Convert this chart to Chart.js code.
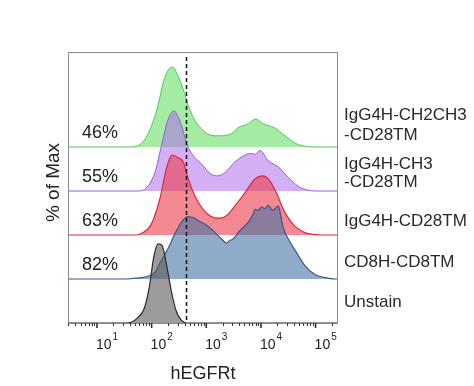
<!DOCTYPE html>
<html>
<head>
<meta charset="utf-8">
<script src="https://cdn.jsdelivr.net/npm/chart.js@4.4.1/dist/chart.umd.min.js"></script>
<style>
    html, body { margin: 0; padding: 0; background: #fff; }
    #wrap { width: 474px; height: 386px; }
</style>
</head>
<body>
<div id="wrap"><canvas id="histo_chart" width="474" height="386"></canvas></div>
<script>
// x = log10(hEGFRt), y = % of max
var unstainX = [0.47, 1.5, 1.63, 1.75, 1.87, 1.96, 2.04, 2.12, 2.19, 2.27, 2.36, 2.45, 2.54, 2.64, 5.41];
var unstainY = [0, 0, 1, 7, 19, 46, 83, 99, 97, 74, 40, 15, 4, 0, 0];

var cd8X = [0.47, 1.5, 1.7, 1.85, 1.99, 2.08, 2.15, 2.22, 2.30, 2.42, 2.50, 2.58, 2.67, 2.73, 2.79, 2.85, 2.91, 3.03, 3.16, 3.28, 3.37, 3.43, 3.49, 3.61, 3.77, 3.85, 3.89, 3.95, 4.01, 4.07, 4.13, 4.22, 4.32, 4.36, 4.41, 4.56, 4.68, 4.80, 4.98, 5.16, 5.35, 5.41];
var cd8Y = [0, 0, 1, 2, 5, 10, 20, 28, 38, 56, 66, 74, 78, 77, 76, 73, 71, 66, 58, 50, 45, 48, 50, 60, 71, 80, 87, 86, 90, 88, 92, 86, 91, 80, 64, 43, 30, 17, 6, 2, 0, 0];

var cd28X = [0.47, 1.7, 1.81, 1.99, 2.15, 2.27, 2.37, 2.48, 2.58, 2.67, 2.79, 2.94, 3.09, 3.25, 3.40, 3.52, 3.71, 3.89, 4.04, 4.16, 4.28, 4.44, 4.62, 4.80, 4.98, 5.1, 5.41];
var cd28Y = [0, 0, 2, 13, 45, 83, 100, 97, 91, 70, 49, 32, 23, 21, 26, 36, 53, 70, 74, 68, 53, 28, 11, 3, 0.5, 0, 0];

var ch3X = [0.47, 1.75, 1.87, 2.06, 2.18, 2.30, 2.41, 2.54, 2.64, 2.73, 2.91, 3.09, 3.22, 3.34, 3.52, 3.71, 3.81, 3.90, 3.98, 4.13, 4.32, 4.50, 4.68, 4.86, 5.0, 5.41];
var ch3Y = [0, 0, 2, 23, 57, 89, 100, 83, 60, 47, 34, 21, 19, 23, 36, 45, 47, 46, 51, 38, 30, 17, 6, 1, 0, 0];

var ch2ch3X = [0.47, 1.6, 1.79, 1.93, 2.09, 2.24, 2.38, 2.48, 2.58, 2.67, 2.79, 2.91, 3.03, 3.22, 3.46, 3.58, 3.77, 3.90, 4.04, 4.25, 4.44, 4.62, 4.80, 4.98, 5.41];
var ch2ch3Y = [0, 0, 3, 16, 45, 87, 100, 89, 72, 52, 33, 23, 16, 14, 16.5, 24, 29, 35, 29, 24, 14, 5, 1, 0, 0];

var sampleNames = ["Unstain", "CD8H-CD8TM", "IgG4H-CD28TM", "IgG4H-CH3\n-CD28TM", "IgG4H-CH2CH3\n-CD28TM"];
var positivePct = [null, 82, 63, 55, 46];
var decades = [1, 2, 3, 4, 5];
var gateLog = 2.63;

var ROW_STEP = 55;          // % units between stacked baselines
var X_MIN = 0.47, X_MAX = 5.41;
var FONT = "'Liberation Sans', Arial, sans-serif";

function toPoints(xs, ys, row) {
    return xs.map(function (x, i) { return { x: x, y: ys[i] + row * ROW_STEP }; });
}

function series(xs, ys, row, line, area, width) {
    return {
        data: toPoints(xs, ys, row),
        borderColor: line,
        backgroundColor: area,
        borderWidth: width,
        fill: { value: row * ROW_STEP },
        cubicInterpolationMode: 'monotone',
        pointRadius: 0
    };
}

var labelDy = [[-16], [-12], [-9], [-22, -4], [-27, -7]];

var decor = {
    id: 'decor',
    afterDatasetsDraw: function (chart) {
        var ctx = chart.ctx, a = chart.chartArea;
        var xs = chart.scales.x, ys = chart.scales.y;
        ctx.save();

        // gate line
        var gx = Math.round(xs.getPixelForValue(gateLog)) + 0.5;
        ctx.strokeStyle = '#111';
        ctx.lineWidth = 1.5;
        ctx.setLineDash([4, 3]);
        ctx.beginPath();
        ctx.moveTo(gx, a.top + 5);
        ctx.lineTo(gx, a.bottom);
        ctx.stroke();
        ctx.setLineDash([]);

        // frame
        ctx.strokeStyle = '#8a8a8a';
        ctx.lineWidth = 1;
        ctx.strokeRect(a.left + 0.5, a.top + 0.5, a.right - a.left - 1, a.bottom - a.top);

        // ticks
        ctx.strokeStyle = '#333';
        for (var d = 0; d <= 5; d++) {
            for (var k = 2; k <= 9; k++) {
                var v = d + Math.log10(k);
                if (v < X_MIN || v > X_MAX) continue;
                var px = Math.round(xs.getPixelForValue(v)) + 0.5;
                ctx.beginPath();
                ctx.moveTo(px, a.bottom);
                ctx.lineTo(px, a.bottom + 3);
                ctx.stroke();
            }
        }
        ctx.lineWidth = 1.6;
        ctx.fillStyle = '#222';
        decades.forEach(function (e) {
            var px = xs.getPixelForValue(e);
            ctx.beginPath();
            ctx.moveTo(px, a.bottom);
            ctx.lineTo(px, a.bottom + 5);
            ctx.stroke();
            ctx.textAlign = 'left';
            ctx.textBaseline = 'alphabetic';
            ctx.font = '14px ' + FONT;
            ctx.fillText('10', px - 1, 349);
            var w = ctx.measureText('10').width;
            ctx.font = '10px ' + FONT;
            ctx.fillText(String(e), px + w, 340);
        });

        // axis titles
        ctx.fillStyle = '#222';
        ctx.font = '18px ' + FONT;
        ctx.textAlign = 'center';
        ctx.fillText('hEGFRt', (a.left + a.right) / 2, 379);
        ctx.save();
        ctx.translate(59, (a.top + a.bottom) / 2 - 5);
        ctx.rotate(-Math.PI / 2);
        ctx.font = '19px ' + FONT;
        ctx.fillText('% of Max', 0, 0);
        ctx.restore();

        // percentages and sample names
        sampleNames.forEach(function (name, i) {
            var rb = ys.getPixelForValue(i * ROW_STEP);
            if (positivePct[i] !== null) {
                ctx.font = '18px ' + FONT;
                ctx.textAlign = 'left';
                ctx.fillStyle = '#222';
                ctx.fillText(positivePct[i] + '%', 82, rb - 9);
            }
            ctx.font = '17px ' + FONT;
            ctx.textAlign = 'left';
            ctx.fillStyle = '#2a2a2a';
            name.split('\n').forEach(function (line, j) {
                ctx.fillText(line, 344, rb + labelDy[i][j]);
            });
        });
        ctx.restore();
    }
};

new Chart(document.getElementById("histo_chart").getContext("2d"), {
    type: 'line',
    data: {
        datasets: [
            series(unstainX, unstainY, 0, '#2b2b2b', 'rgba(90, 90, 90, 0.6)', 1.2),
            series(cd8X, cd8Y, 1, '#35588a', 'rgba(70, 115, 165, 0.6)', 1.2),
            series(cd28X, cd28Y, 2, '#dc2a3c', 'rgba(235, 60, 75, 0.6)', 1.2),
            series(ch3X, ch3Y, 3, '#9a5ad6', 'rgba(175, 110, 235, 0.55)', 1),
            series(ch2ch3X, ch2ch3Y, 4, '#4cc94c', 'rgba(90, 220, 90, 0.55)', 1)
        ]
    },
    options: {
        responsive: false,
        animation: false,
        layout: { padding: { left: 68, right: 136, top: 52, bottom: 63 } },
        plugins: { legend: { display: false }, tooltip: { enabled: false } },
        scales: {
            x: { type: 'linear', min: X_MIN, max: X_MAX, display: false },
            y: { type: 'linear', min: 0, max: 338.75, display: false }
        }
    },
    plugins: [decor]
});
</script>
</body>
</html>
